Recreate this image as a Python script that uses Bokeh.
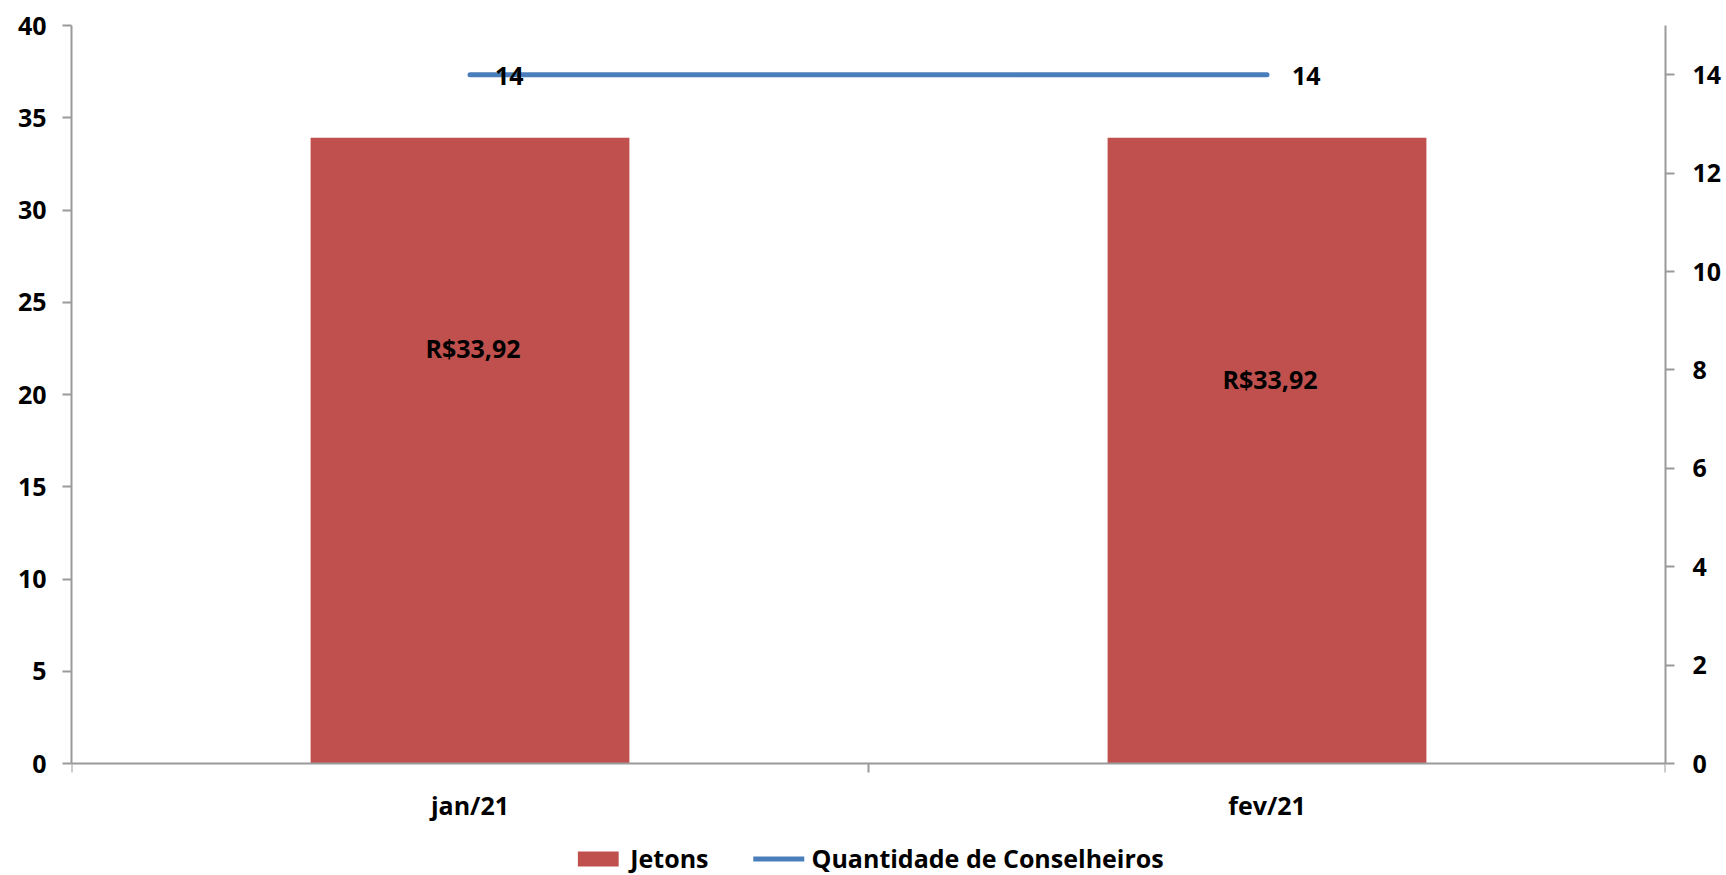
from bokeh.plotting import figure
from bokeh.models import Range1d, LinearAxis, FixedTicker, Legend, LegendItem, ColumnDataSource
from bokeh.core.properties import value
from bokeh.embed import file_html
from bokeh.resources import INLINE

categories = ["jan/21", "fev/21"]
jetons = [33.92, 33.92]
conselheiros = [14, 14]
bar_labels = ["R$33,92", "R$33,92"]
line_labels = ["14", "14"]
left_ticks = [0, 5, 10, 15, 20, 25, 30, 35, 40]
right_ticks = [0, 2, 4, 6, 8, 10, 12, 14]
left_max = 40
right_max = 15

# layout (pixels)
AXIS_PX = 738      # height of the value axes
BELOW_PX = 112     # room under the axes, inside the frame, for labels and legend
bar_label_dy = [-103, -72]

FONT = "Open Sans"
FS = "25px"
AXIS_COLOR = "#9a9a9a"

xs = [i + 0.5 for i in range(len(categories))]
bounds = list(range(len(categories) + 1))
mid = [j / 2 for j in jetons]

src = ColumnDataSource(dict(x=xs, jet=jetons, mid=mid, cons=conselheiros,
                            blab=bar_labels, llab=line_labels, dy=bar_label_dy))

ext = BELOW_PX / AXIS_PX
p = figure(frame_width=1594, frame_height=AXIS_PX + BELOW_PX, output_backend="svg",
           toolbar_location=None,
           x_range=Range1d(0, len(categories)), y_range=Range1d(-left_max * ext, left_max),
           min_border_left=71, min_border_right=58, min_border_top=25, min_border_bottom=0,
           x_axis_location=None, y_axis_location=None)
p.outline_line_color = None
p.xgrid.visible = False
p.ygrid.visible = False
p.extra_y_ranges = {"right": Range1d(-right_max * ext, right_max)}

def style_axis(ax):
    ax.axis_line_color = AXIS_COLOR
    ax.axis_line_width = 2
    ax.major_tick_line_color = AXIS_COLOR
    ax.major_tick_line_width = 2
    ax.minor_tick_line_color = AXIS_COLOR
    ax.minor_tick_line_width = 2
    ax.major_tick_in = 0
    ax.major_tick_out = 9
    ax.minor_tick_in = 0
    ax.minor_tick_out = 0
    ax.major_label_text_font = FONT
    ax.major_label_text_font_style = "bold"
    ax.major_label_text_font_size = FS
    ax.major_label_text_color = "black"

yl = LinearAxis(ticker=FixedTicker(ticks=left_ticks, minor_ticks=[]), bounds=(0, left_max))
style_axis(yl)
yl.major_label_standoff = 16
p.add_layout(yl, "left")

yr = LinearAxis(y_range_name="right", ticker=FixedTicker(ticks=right_ticks, minor_ticks=[]),
                bounds=(0, right_max))
style_axis(yr)
yr.major_label_standoff = 18
p.add_layout(yr, "right")

xa = LinearAxis(ticker=FixedTicker(ticks=xs, minor_ticks=bounds), fixed_location=0)
style_axis(xa)
xa.major_tick_out = 0
xa.minor_tick_out = 9
xa.major_label_standoff = 15
xa.major_label_overrides = {x: c for x, c in zip(xs, categories)}
p.add_layout(xa, "below")

bars = p.vbar(x="x", top="jet", width=0.4, source=src, fill_color="#C0504D",
              line_color=None)
line = p.line(x="x", y="cons", source=src, y_range_name="right", line_color="#4A7EBB",
              line_width=5, line_cap="round")

p.text(x="x", y="mid", text="blab", source=src, y_offset="dy", x_offset=3,
       text_align="center", text_baseline="middle", text_font=value(FONT),
       text_font_style="bold", text_font_size=FS, text_color="black")
p.text(x="x", y="cons", text="llab", source=src, y_range_name="right", x_offset=25,
       y_offset=1, text_align="left", text_baseline="middle", text_font=value(FONT),
       text_font_style="bold", text_font_size=FS, text_color="black")

legend = Legend(items=[LegendItem(label="Jetons", renderers=[bars]),
                       LegendItem(label="Quantidade de Conselheiros", renderers=[line])],
                orientation="horizontal", location="bottom_center",
                label_text_font=FONT, label_text_font_style="bold",
                label_text_font_size=FS, label_text_color="black", label_height=19,
                glyph_width=51, glyph_height=19, label_standoff=7, spacing=45,
                border_line_color=None, background_fill_alpha=0, padding=0, margin=0)
p.add_layout(legend)

open("out.html", "w").write(file_html(p, INLINE))
